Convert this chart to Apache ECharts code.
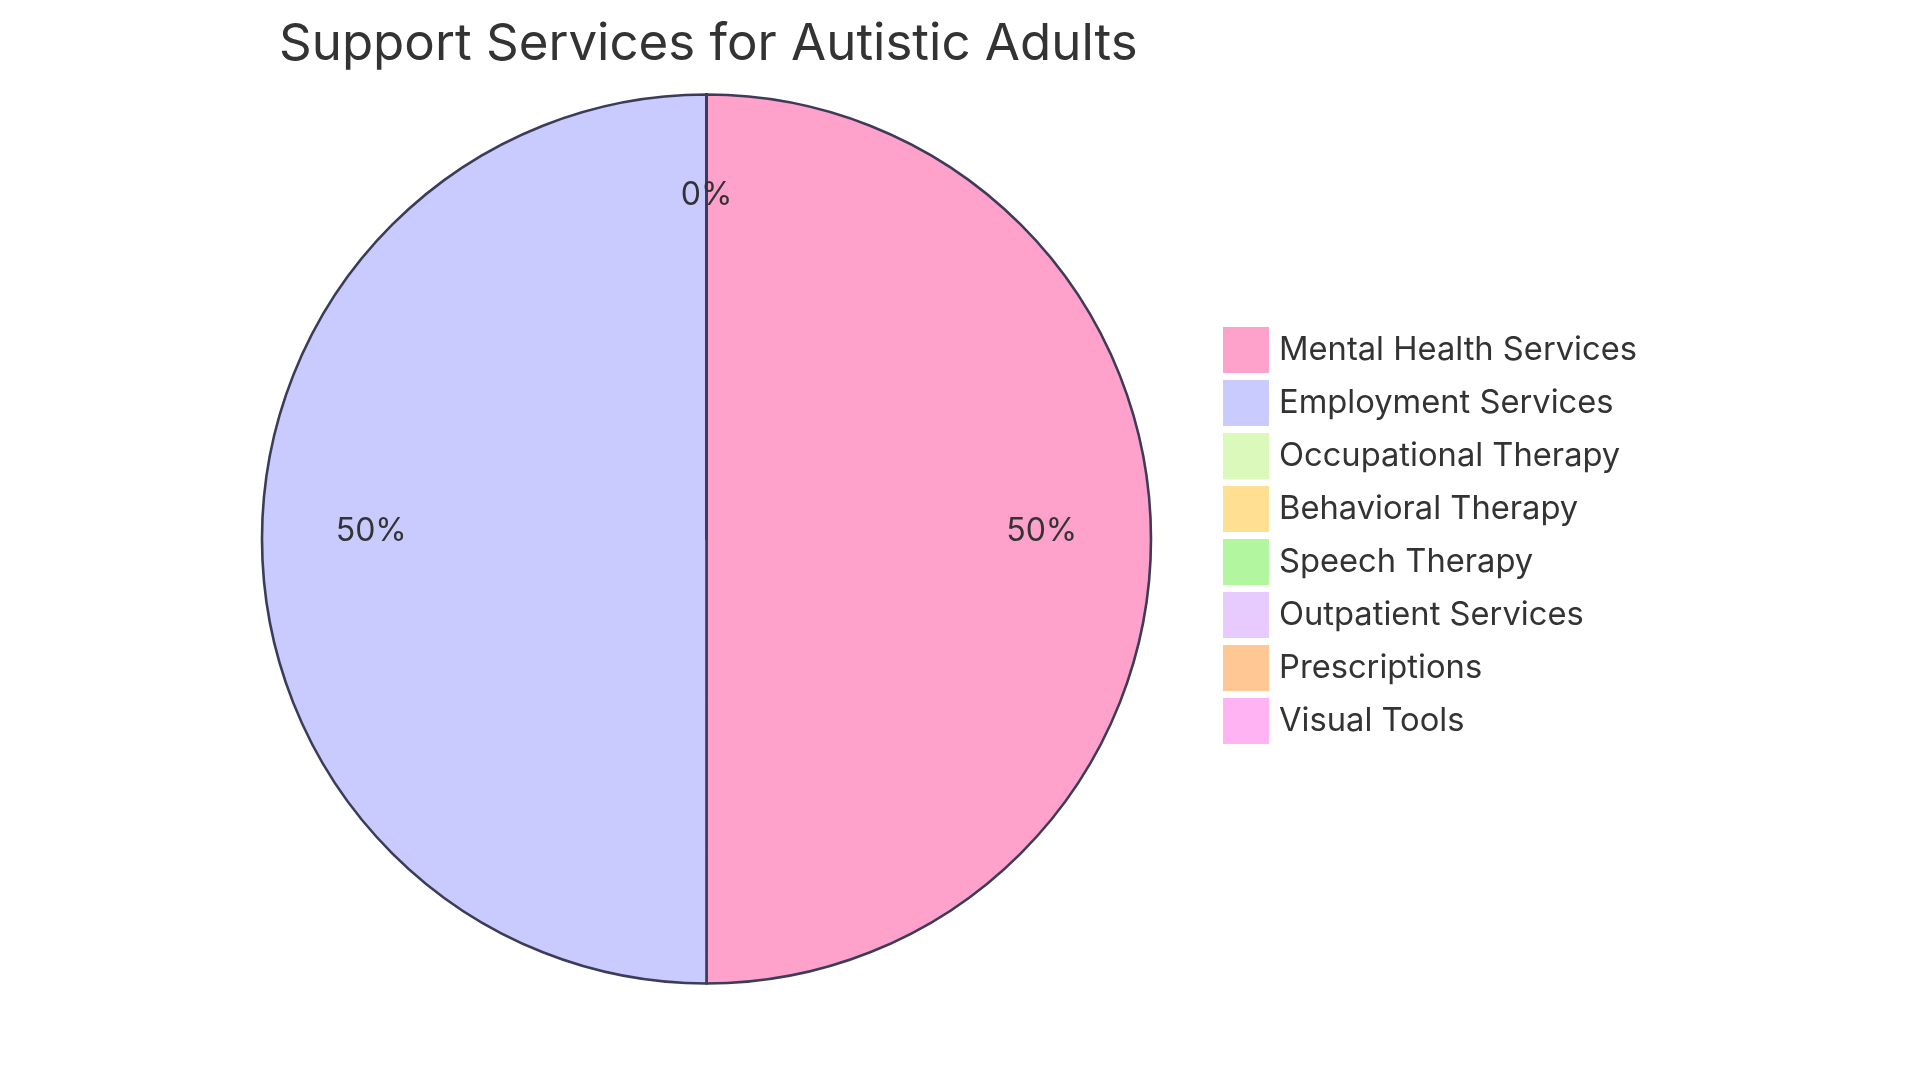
<!DOCTYPE html>
<html>
<head>
<meta charset="utf-8">
<script src="https://cdn.jsdelivr.net/npm/echarts@6/dist/echarts.min.js"></script>
<style>html,body{margin:0;padding:0;background:#fff;}#c{width:1920px;height:1080px;}</style>
</head>
<body>
<div id="c"></div>
<script>
const titleText = 'Support Services for Autistic Adults';
const categories = ['Mental Health Services','Employment Services','Occupational Therapy','Behavioral Therapy','Speech Therapy','Outpatient Services','Prescriptions','Visual Tools'];
const values = [50, 50, 0, 0, 0, 0, 0, 0];
const colors = ['#FFA2CB','#C9CAFE','#DBF9BB','#FFDF91','#B3F6A0','#E7CBFE','#FFC794','#FFB3F3'];

const fontFamily = 'Inter, "Noto Sans", sans-serif';
const dataMain = categories.map((n, i) => ({ name: n, value: values[i], itemStyle: { color: colors[i] } }));
const dataLabel = categories.map((n, i) => ({ name: n, value: values[i] }));

const chart = echarts.init(document.getElementById('c'));
chart.setOption({
  animation: false,
  backgroundColor: '#ffffff',
  title: {
    text: titleText,
    left: 274, top: 14,
    textStyle: { fontFamily, fontSize: 51, fontWeight: 'normal', color: '#333333' }
  },
  legend: {
    orient: 'vertical',
    left: 1223, top: 327,
    padding: 0,
    itemWidth: 46, itemHeight: 46, itemGap: 7,
    icon: 'rect',
    selectedMode: false,
    data: categories,
    itemStyle: { borderWidth: 0 },
    textStyle: { fontFamily, fontSize: 32.7, color: '#333333', padding: [0, 0, 0, 5] }
  },
  series: [
    {
      type: 'pie',
      center: [706.5, 539],
      radius: [0, 444.5],
      startAngle: 90,
      clockwise: true,
      avoidLabelOverlap: false,
      stillShowZeroSum: true,
      label: { show: false },
      labelLine: { show: false },
      itemStyle: { borderColor: '#3c3c5a', borderWidth: 2.6 },
      emphasis: { disabled: true },
      data: dataMain
    },
    {
      type: 'pie',
      center: [706.5, 539],
      radius: [220, 444.5],
      startAngle: 90,
      clockwise: true,
      silent: true,
      avoidLabelOverlap: false,
      percentPrecision: 0,
      itemStyle: { color: 'rgba(0,0,0,0)', borderWidth: 0 },
      label: {
        show: true, position: 'inside',
        formatter: '{d}%',
        offset: [0, -8],
        fontFamily, fontSize: 32, color: '#333333'
      },
      labelLine: { show: false },
      emphasis: { disabled: true },
      data: dataLabel
    }
  ]
});
</script>
</body>
</html>
